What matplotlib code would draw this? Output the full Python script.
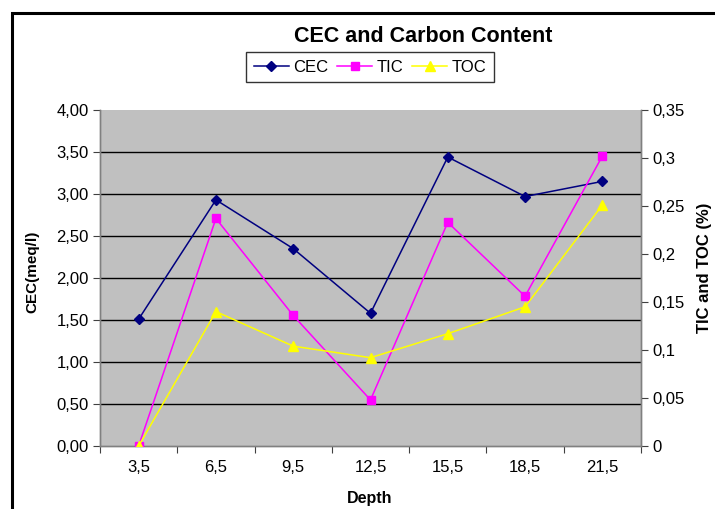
import matplotlib
matplotlib.use("Agg")
import matplotlib.pyplot as plt
from matplotlib.lines import Line2D
from matplotlib.patches import Rectangle

plt.rcParams['font.family'] = ['Liberation Sans', 'DejaVu Sans']

depths = ["3,5", "6,5", "9,5", "12,5", "15,5", "18,5", "21,5"]
cec = [1.51, 2.93, 2.35, 1.58, 3.44, 2.97, 3.15]
tic = [0.0, 0.237, 0.136, 0.048, 0.233, 0.156, 0.302]
toc = [0.0, 0.140, 0.104, 0.092, 0.117, 0.145, 0.251]
left_ticks = [0.0, 0.5, 1.0, 1.5, 2.0, 2.5, 3.0, 3.5, 4.0]
left_labels = ["0,00", "0,50", "1,00", "1,50", "2,00", "2,50", "3,00", "3,50", "4,00"]
right_ticks = [0.0, 0.05, 0.1, 0.15, 0.2, 0.25, 0.3, 0.35]
right_labels = ["0", "0,05", "0,1", "0,15", "0,2", "0,25", "0,3", "0,35"]

W, H = 715, 509
fig = plt.figure(figsize=(W / 100, H / 100), dpi=100)

# chart frame (open to the right and bottom)
fig.add_artist(Rectangle((12 / W, -0.1), 1.2, 1 - 13 / H + 0.1, transform=fig.transFigure,
                         fill=False, edgecolor='black', linewidth=2.2))

x0, x1, yt, yb = 100, 641, 110, 446
ax = fig.add_axes([x0 / W, 1 - yb / H, (x1 - x0) / W, (yb - yt) / H])
ax.set_facecolor('#C0C0C0')
ax2 = ax.twinx()

xs = [i + 0.5 for i in range(len(depths))]

ax.plot(xs, cec, color='#000080', marker='D', markersize=5.5, linewidth=1.1, zorder=3)
ax2.plot(xs, tic, color='#FF00FF', marker='s', markersize=6, linewidth=1.1, zorder=3)
ax2.plot(xs, toc, color='#FFFF00', marker='^', markersize=7.5, linewidth=1.1, zorder=3)

ax.set_xlim(0, len(depths))
ax.set_ylim(0, 4.0)
ax2.set_ylim(0, 0.35)

for y in left_ticks[1:-1]:
    ax.axhline(y, color='black', linewidth=1.0, zorder=1)

ax.set_yticks(left_ticks)
ax.set_yticklabels(left_labels)
ax2.set_yticks(right_ticks)
ax2.set_yticklabels(right_labels)

ax.set_xticks(range(len(depths) + 1))
ax.set_xticklabels([])
ax.set_xticks(xs, minor=True)
ax.set_xticklabels(depths, minor=True)
ax.tick_params(axis='x', which='minor', length=0, pad=10, labelsize=12)
ax.tick_params(axis='x', which='major', length=5, direction='out', color='#404040')
ax.tick_params(axis='y', length=5, direction='out', color='#404040', labelsize=12, pad=3)
ax2.tick_params(axis='y', length=5, direction='out', color='#404040', labelsize=12, pad=3)

for a in (ax, ax2):
    for s in a.spines.values():
        s.set_color('#808080')
        s.set_linewidth(1.0)
ax.spines['top'].set_visible(False)
ax2.spines['top'].set_visible(False)

fig.text(32 / W, 1 - 272 / H, "CEC(meq/l)", rotation=90, ha='center', va='center',
         fontsize=11, fontweight='bold')
fig.text(705 / W, 1 - 268 / H, "TIC and TOC (%)", rotation=90, ha='center', va='center',
         fontsize=12, fontweight='bold')
fig.text(370 / W, 1 - 499 / H, "Depth", ha='center', va='center',
         fontsize=11.5, fontweight='bold')
fig.text(423 / W, 1 - 37 / H, "CEC and Carbon Content", ha='center', va='center',
         fontsize=15.5, fontweight='bold')

handles = [
    Line2D([], [], color='#000080', marker='D', markersize=5.5, linewidth=1.1),
    Line2D([], [], color='#FF00FF', marker='s', markersize=6, linewidth=1.1),
    Line2D([], [], color='#FFFF00', marker='^', markersize=7.5, linewidth=1.1),
]
leg = fig.legend(handles, ["CEC", "TIC", "TOC"], loc='center', ncol=3,
                 bbox_to_anchor=(370 / W, 1 - 67 / H), frameon=True, fancybox=False,
                 edgecolor='black', fontsize=12, handlelength=2.1, handletextpad=0.25,
                 columnspacing=0.55, borderpad=0.45, borderaxespad=0)
leg.get_frame().set_linewidth(1.0)

fig.savefig("out.png", dpi=100)
